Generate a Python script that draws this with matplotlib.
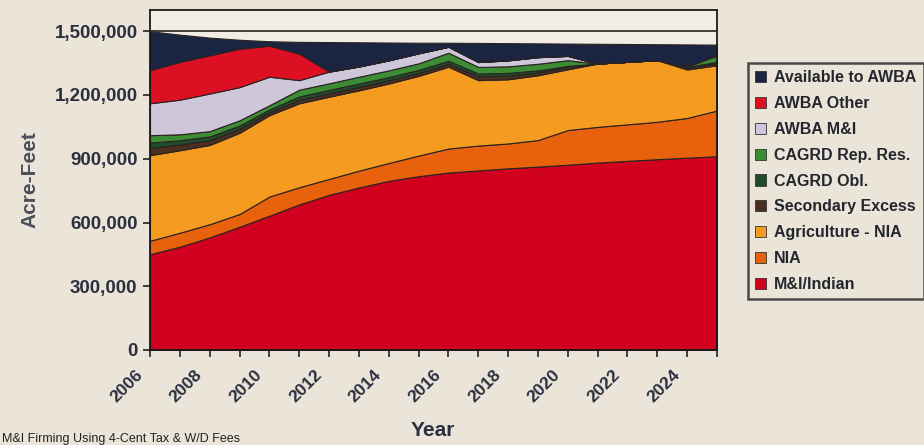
import matplotlib
matplotlib.use("Agg")
import matplotlib.pyplot as plt
import matplotlib.transforms as mtransforms
import numpy as np
from matplotlib.patches import Patch
from matplotlib.ticker import FuncFormatter, MultipleLocator

years = list(range(2006, 2026))

# values in thousands of acre-feet (stack order bottom -> top)
mi_indian   = [451, 486, 530, 580, 632, 685, 730, 765, 796, 818, 835, 845, 855, 863, 872, 882, 890, 898, 905, 912]
nia         = [63, 66, 62, 60, 90, 81, 75, 79, 84, 97, 113, 117, 117, 125, 163, 168, 172, 176, 187, 215]
ag_nia      = [403, 388, 373, 382, 383, 395, 387, 378, 374, 375, 385, 308, 302, 305, 286, 298, 294, 290, 228, 213]
sec_excess  = [34, 27, 22, 18, 14, 16, 16, 16, 15, 14, 14, 18, 17, 13, 10, 0, 0, 0, 8, 10]
cagrd_obl   = [25, 20, 18, 16, 13, 16, 16, 16, 15, 14, 14, 13, 13, 10, 6, 0, 0, 0, 4, 6]
cagrd_rep   = [35, 28, 25, 25, 20, 32, 31, 32, 32, 31, 38, 31, 31, 31, 27, 0, 0, 0, 3, 31]
awba_mi     = [150, 163, 177, 156, 134, 45, 55, 48, 47, 47, 28, 23, 28, 31, 20, 0, 0, 0, 0, 0]
awba_other  = [156, 178, 180, 181, 146, 125, 0, 0, 0, 0, 0, 0, 0, 0, 0, 0, 0, 0, 0, 0]
available   = [183, 128, 83, 42, 21, 55, 139, 114, 84, 50, 19, 90, 81, 65, 58, 93, 84, 75, 103, 50]

series_labels = ["M&I/Indian", "NIA", "Agriculture - NIA", "Secondary Excess", "CAGRD Obl.",
                 "CAGRD Rep. Res.", "AWBA M&I", "AWBA Other", "Available to AWBA"]
series_values = [mi_indian, nia, ag_nia, sec_excess, cagrd_obl, cagrd_rep, awba_mi, awba_other, available]
colors = ["#d2001f", "#e8620e", "#f59c20", "#4a2e20", "#1f4d2b", "#3c8c34", "#cec7da", "#dc0f23", "#1b2440"]

yticks = [0, 300000, 600000, 900000, 1200000, 1500000]
xtick_labels = list(range(2006, 2025, 2))

bg = "#ebe5d9"
txt = "#2b3040"

fig = plt.figure(figsize=(9.24, 4.45), dpi=100, facecolor=bg)
ax = fig.add_axes([150/924, 1-350/445, (717-150)/924, (350-10)/445])
ax.set_facecolor("#f1ede4")

data = np.array(series_values, dtype=float) * 1000
ax.stackplot(years, data, colors=colors, edgecolor="#2a2222", linewidth=0.8, zorder=3)

ax.set_xlim(2006, 2025)
ax.set_ylim(0, 1600000)
ax.set_yticks(yticks)
ax.yaxis.set_major_formatter(FuncFormatter(lambda v, p: f"{int(v):,}"))
ax.grid(axis="y", color="#222222", linewidth=1.2, zorder=1)
ax.set_axisbelow(True)

ax.set_xticks(xtick_labels)
ax.xaxis.set_minor_locator(MultipleLocator(1))
ax.tick_params(axis="x", which="both", direction="out", length=5, width=1.2, color="#222222", pad=4)
ax.tick_params(axis="y", direction="out", length=5, width=1.2, color="#222222", pad=4)
ax.set_xticklabels([str(y) for y in xtick_labels], rotation=45, ha="right", va="top",
                   rotation_mode="anchor", fontsize=12.5, fontweight="bold", color=txt,
                   family="Liberation Sans")
offset = mtransforms.ScaledTranslation(-15/100, -5/100, fig.dpi_scale_trans)
for lab in ax.get_xticklabels():
    lab.set_transform(lab.get_transform() + offset)
for lab in ax.get_yticklabels():
    lab.set_fontsize(13.5)
    lab.set_fontweight("bold")
    lab.set_color(txt)
    lab.set_family("Liberation Sans")

for s in ax.spines.values():
    s.set_color("#1a1a1a")
    s.set_linewidth(1.3)
    s.set_zorder(5)

ax.set_ylabel("Acre-Feet", fontsize=15, fontweight="bold", color="#4a4f5a",
              family="Liberation Sans", labelpad=11)
fig.text(433/924, 1-430/445, "Year", ha="center", va="center", fontsize=15,
         fontweight="bold", color=txt, family="Liberation Sans")
fig.text(0.002, 0.006, "M&I Firming Using 4-Cent Tax & W/D Fees", ha="left", va="baseline",
         fontsize=9, color="#222222", family="Liberation Sans")

handles = [Patch(facecolor=c, edgecolor="#333333", linewidth=0.6, label=l)
           for c, l in zip(colors[::-1], series_labels[::-1])]
leg = fig.legend(handles=handles, loc="upper left", bbox_to_anchor=(748/924, 1-63/445),
                 frameon=True, fancybox=False, edgecolor="#222222", facecolor=bg,
                 prop={"family": "Liberation Sans", "weight": "bold", "size": 11.5},
                 handlelength=0.7, handleheight=0.7, handletextpad=0.5,
                 labelspacing=0.68, borderpad=0.45, borderaxespad=0)
leg.get_frame().set_linewidth(1.8)
for t in leg.get_texts():
    t.set_color("#23262e")

fig.savefig("out.png", dpi=100, facecolor=bg)
